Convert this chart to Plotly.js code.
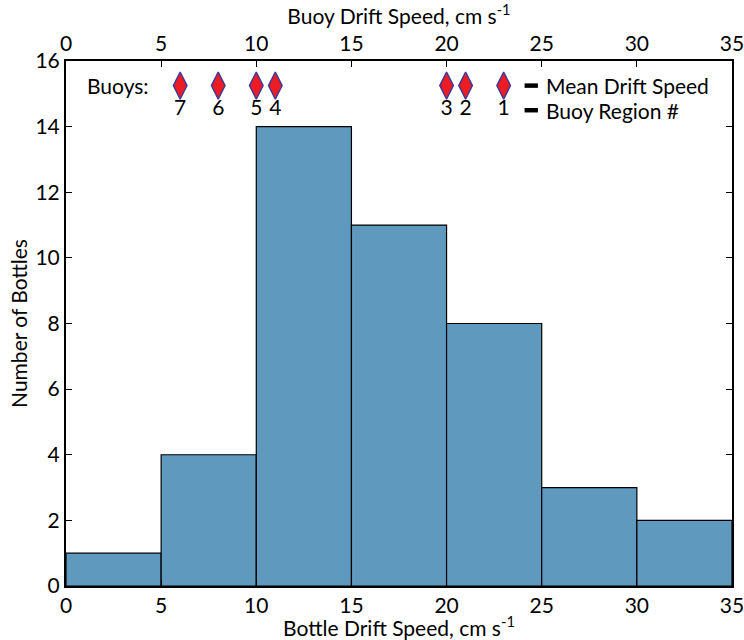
<!DOCTYPE html>
<html>
<head>
<meta charset="utf-8">
<script src="https://cdn.plot.ly/plotly-3.0.1.min.js"></script>
<style>html,body{margin:0;padding:0;background:#fff;}#chart{width:744px;height:640px;}</style>
</head>
<body>
<div id="chart"></div>
<script>
// Histogram of bottle drift speeds
const binStarts = [0, 5, 10, 15, 20, 25, 30];
const binWidth = 5;
const bottleCounts = [1, 4, 14, 11, 8, 3, 2];

// Buoy mean drift speeds by region
const buoyRegions = ['1', '2', '3', '4', '5', '6', '7'];
const buoyMeanSpeed = [23, 21, 20, 11, 10, 8, 6];

const xTicks = [0, 5, 10, 15, 20, 25, 30, 35];
const yTicks = [0, 2, 4, 6, 8, 10, 12, 14, 16];

const FONT = 'Lato, "Open Sans", sans-serif';
const FS = 21;
const markerRowY = 15.25;
const labelRowY = 14.5;

const binCenters = binStarts.map(s => s + binWidth / 2);

const bars = {
  type: 'bar',
  x: binCenters,
  y: bottleCounts,
  width: binStarts.map(() => binWidth),
  marker: {color: '#5F99BD', line: {color: '#000', width: 1.2}},
  xaxis: 'x', yaxis: 'y',
  hoverinfo: 'x+y'
};

const buoys = {
  type: 'scatter',
  mode: 'markers',
  x: buoyMeanSpeed,
  y: buoyMeanSpeed.map(() => markerRowY),
  marker: {symbol: 'diamond-tall', size: 19.5, color: '#EC1C24', line: {color: '#3A3A9A', width: 1.4}},
  xaxis: 'x2', yaxis: 'y',
  cliponaxis: false
};

const regionLabels = {
  type: 'scatter',
  mode: 'text',
  x: buoyMeanSpeed,
  y: buoyMeanSpeed.map(() => labelRowY),
  text: buoyRegions,
  textposition: 'middle center',
  textfont: {family: FONT, size: FS, color: '#000'},
  xaxis: 'x2', yaxis: 'y',
  cliponaxis: false
};

const axisCommon = {
  range: [0, 35],
  tickvals: xTicks,
  ticktext: xTicks.map(String),
  ticks: 'inside', ticklen: 6, tickwidth: 1, tickcolor: '#000',
  ticklabeloverflow: 'allow',
  showline: true, linecolor: '#000', linewidth: 2,
  showgrid: false, zeroline: false,
  tickfont: {family: FONT, size: FS, color: '#000'},
  fixedrange: true
};

const layout = {
  width: 744, height: 640,
  margin: {l: 66, r: 12, t: 61, b: 54},
  paper_bgcolor: '#fff', plot_bgcolor: '#fff',
  showlegend: false,
  bargap: 0,
  font: {family: FONT, size: FS, color: '#000'},
  xaxis: Object.assign({}, axisCommon, {
    side: 'bottom', anchor: 'y', mirror: false,
    title: {text: 'Bottle Drift Speed, cm s<sup>-1</sup>', font: {family: FONT, size: FS, color: '#000'}, standoff: 0}
  }),
  xaxis2: Object.assign({}, axisCommon, {
    side: 'top', anchor: 'y', overlaying: 'x', matches: 'x',
    title: {text: 'Buoy Drift Speed, cm s<sup>-1</sup>', font: {family: FONT, size: FS, color: '#000'}, standoff: 0}
  }),
  yaxis: {
    range: [0, 16], tickvals: yTicks, ticktext: yTicks.map(String),
    ticks: 'inside', ticklen: 6, tickwidth: 1, tickcolor: '#000',
    ticklabeloverflow: 'allow',
    showline: true, linecolor: '#000', linewidth: 2, mirror: 'ticks',
    showgrid: false, zeroline: false,
    tickfont: {family: FONT, size: FS, color: '#000'},
    title: {text: 'Number of Bottles', font: {family: FONT, size: FS, color: '#000'}, standoff: 2},
    fixedrange: true
  },
  annotations: [
    {xref: 'x2', yref: 'y', x: 2.75, y: markerRowY, text: 'Buoys:', showarrow: false,
     xanchor: 'center', yanchor: 'middle', font: {family: FONT, size: FS, color: '#000'}},
    {xref: 'x2', yref: 'y', x: 25.1, y: markerRowY, text: 'Mean Drift Speed', showarrow: false,
     xanchor: 'left', yanchor: 'middle', font: {family: FONT, size: FS, color: '#000'}},
    {xref: 'x2', yref: 'y', x: 25.1, y: labelRowY, text: 'Buoy Region #', showarrow: false,
     xanchor: 'left', yanchor: 'middle', font: {family: FONT, size: FS, color: '#000'}}
  ],
  shapes: [
    {type: 'line', xref: 'x2', yref: 'y', x0: 24.1, x1: 24.8, y0: markerRowY, y1: markerRowY, line: {color: '#000', width: 4.5}},
    {type: 'line', xref: 'x2', yref: 'y', x0: 24.1, x1: 24.8, y0: labelRowY, y1: labelRowY, line: {color: '#000', width: 4.5}}
  ]
};

Plotly.newPlot('chart', [bars, buoys, regionLabels], layout, {displayModeBar: false, staticPlot: true});
</script>
</body>
</html>
